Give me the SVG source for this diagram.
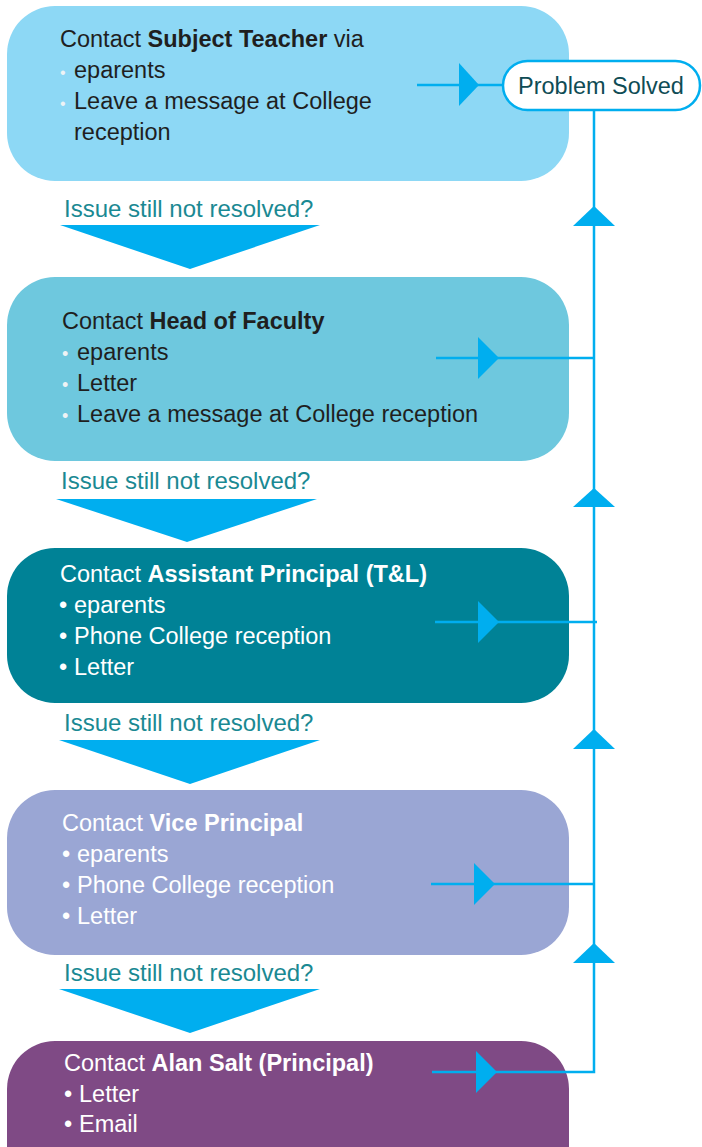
<svg xmlns="http://www.w3.org/2000/svg" width="702" height="1147" viewBox="0 0 702 1147">
<style>
text{font-family:"Liberation Sans",Arial,sans-serif;font-size:23.5px}
.dk{fill:#1f1f1f}
.wt{fill:#ffffff}
.b{font-weight:bold}
.lb{fill:#1a8993;font-size:24px}
.bl{fill:#eef3f5}
.ln{stroke:#00aeef;stroke-width:2.5;fill:none}
.ah{fill:#00aeef}
</style>
<rect width="702" height="1147" fill="#ffffff"/>
<g id="node-subject-teacher">
<rect x="7" y="6" width="562" height="175" rx="48" fill="#8dd8f5"/>
<text class="dk" x="60" y="47">Contact <tspan class="b">Subject Teacher</tspan> via</text>
<text class="dk" y="78"><tspan class="bl" x="60" font-size="16">•</tspan><tspan x="74">eparents</tspan></text>
<text class="dk" y="109"><tspan class="bl" x="60" font-size="16">•</tspan><tspan x="74">Leave a message at College</tspan></text>
<text class="dk" x="74" y="140">reception</text>
</g>
<g id="node-head-of-faculty">
<rect x="7" y="277" width="562" height="184" rx="48" fill="#6ec8de"/>
<text class="dk" x="62" y="329">Contact <tspan class="b">Head of Faculty</tspan></text>
<text class="dk" y="360"><tspan class="bl" x="62" font-size="18">•</tspan><tspan x="77">eparents</tspan></text>
<text class="dk" y="391"><tspan class="bl" x="62" font-size="18">•</tspan><tspan x="77">Letter</tspan></text>
<text class="dk" y="422"><tspan class="bl" x="62" font-size="18">•</tspan><tspan x="77">Leave a message at College reception</tspan></text>
</g>
<g id="node-assistant-principal">
<rect x="7" y="548" width="562" height="155" rx="48" fill="#008296"/>
<text class="wt" x="60" y="582">Contact <tspan class="b">Assistant Principal (T&amp;L)</tspan></text>
<text class="wt" y="613"><tspan x="59">•</tspan><tspan x="74">eparents</tspan></text>
<text class="wt" y="644"><tspan x="59">•</tspan><tspan x="74">Phone College reception</tspan></text>
<text class="wt" y="675"><tspan x="59">•</tspan><tspan x="74">Letter</tspan></text>
</g>
<g id="node-vice-principal">
<rect x="7" y="790" width="562" height="165" rx="48" fill="#9aa6d4"/>
<text class="wt" x="62" y="831">Contact <tspan class="b">Vice Principal</tspan></text>
<text class="wt" y="862"><tspan x="62">•</tspan><tspan x="77">eparents</tspan></text>
<text class="wt" y="893"><tspan x="62">•</tspan><tspan x="77">Phone College reception</tspan></text>
<text class="wt" y="924"><tspan x="62">•</tspan><tspan x="77">Letter</tspan></text>
</g>
<g id="node-principal">
<rect x="7" y="1041" width="562" height="160" rx="48" fill="#7f4a85"/>
<text class="wt" x="64" y="1071">Contact <tspan class="b">Alan Salt (Principal)</tspan></text>
<text class="wt" y="1102"><tspan x="64">•</tspan><tspan x="79">Letter</tspan></text>
<text class="wt" y="1132"><tspan x="64">•</tspan><tspan x="79">Email</tspan></text>
</g>
<g id="connectors">
<text class="lb" x="64" y="217">Issue still not resolved?</text>
<polygon class="ah" points="60,225 320,225 190,269"/>
<text class="lb" x="61" y="489">Issue still not resolved?</text>
<polygon class="ah" points="56,499 317,499 187,542"/>
<text class="lb" x="64" y="731">Issue still not resolved?</text>
<polygon class="ah" points="59,740 320,740 190,784"/>
<text class="lb" x="64" y="981">Issue still not resolved?</text>
<polygon class="ah" points="59,989 320,989 190,1033"/>
<path class="ln" d="M594,105 V1072 H432"/>
<polygon class="ah" points="594,206 573,226 615,226"/>
<polygon class="ah" points="594,488 573,507 615,507"/>
<polygon class="ah" points="594,729 573,749 615,749"/>
<polygon class="ah" points="594,943 573,963 615,963"/>
<line class="ln" x1="417" y1="85" x2="505" y2="85"/>
<polygon class="ah" points="459,63 479,85 459,106"/>
<line class="ln" x1="436" y1="358" x2="594" y2="358"/>
<polygon class="ah" points="478,337 499,358 478,379"/>
<line class="ln" x1="435" y1="622" x2="597" y2="622"/>
<polygon class="ah" points="478,601 499,622 478,643"/>
<line class="ln" x1="431" y1="884" x2="594" y2="884"/>
<polygon class="ah" points="474,863 495,884 474,905"/>
<polygon class="ah" points="476,1051 497,1072 476,1093"/>
</g>
<g id="node-problem-solved">
<rect x="503" y="61" width="197" height="49" rx="24.5" fill="#ffffff" stroke="#00aeef" stroke-width="2.5"/>
<text x="601" y="94" text-anchor="middle" fill="#0f4c55">Problem Solved</text>
</g>
</svg>
